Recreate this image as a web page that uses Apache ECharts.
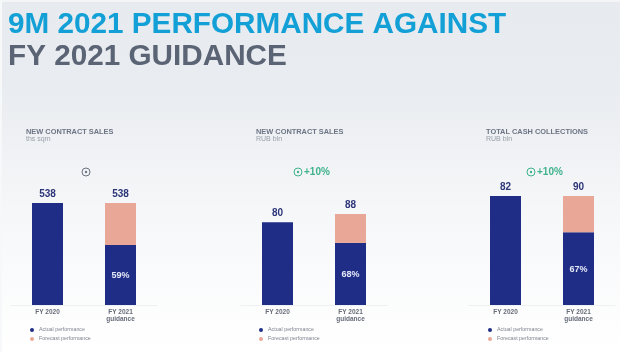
<!DOCTYPE html>
<html>
<head>
<meta charset="utf-8">
<style>
  html, body { margin: 0; padding: 0; background: #fff; }
  #chart { width: 620px; height: 352px; }
</style>
<script src="https://cdn.jsdelivr.net/npm/echarts@6/dist/echarts.min.js"></script>
</head>
<body>
<div id="chart"></div>
<script>
var categories = ['FY 2020', 'FY 2021\nguidance']
var actualName = 'Actual performance'
var forecastName = 'Forecast performance'

// bar heights
var sqmActual = [538, 317]
var sqmForecast = [0, 221]
var sqmTotals = ['538', '538']
var sqmShare = ['', '59%']

var rubActual = [80, 60]
var rubForecast = [0, 28]
var rubTotals = ['80', '88']
var rubShare = ['', '68%']

// the source draws both bars of this panel at the same height
var cashActual = [90, 60]
var cashForecast = [0, 30]
var cashTotals = ['82', '90']
var cashShare = ['', '67%']

var panels = [
  { title: 'NEW CONTRACT SALES', unit: 'ths sqm', actual: sqmActual, forecast: sqmForecast, totals: sqmTotals, share: sqmShare, growth: '', titleX: 26, left: 11, legendX: 30, max: 538, height: 102, iconX: 86 },
  { title: 'NEW CONTRACT SALES', unit: 'RUB bln', actual: rubActual, forecast: rubForecast, totals: rubTotals, share: rubShare, growth: '+10%', titleX: 256, left: 241, legendX: 259, max: 88, height: 91, iconX: 298 },
  { title: 'TOTAL CASH COLLECTIONS', unit: 'RUB bln', actual: cashActual, forecast: cashForecast, totals: cashTotals, share: cashShare, growth: '+10%', titleX: 486, left: 469, legendX: 488, max: 90, height: 109, iconX: 531 }
]

var font = '"Liberation Sans", Arial, sans-serif'
var narrow = '"Liberation Sans Narrow", "Liberation Sans", Arial, sans-serif'
var grids = []
var xAxes = []
var yAxes = []
var series = []
var legends = []
// pale strips along the top and left edge of the slide
var graphics = [
  { type: 'rect', shape: { x: 0, y: 0, width: 620, height: 2 }, style: { fill: '#f4f5f7' } },
  { type: 'rect', shape: { x: 0, y: 0, width: 2, height: 352 }, style: { fill: '#f7f8fa' } }
]
var titles = [
  { text: '9M 2021 PERFORMANCE AGAINST', left: 8, top: 10, padding: 0, textStyle: { fontFamily: narrow, fontSize: 29.7, fontWeight: 'bold', color: '#12a0d6' } },
  { text: 'FY 2021 GUIDANCE', left: 8, top: 42, padding: 0, textStyle: { fontFamily: narrow, fontSize: 29.7, fontWeight: 'bold', color: '#5a6474' } }
]

panels.forEach(function (p, i) {
  titles.push({
    text: p.title,
    subtext: p.unit,
    left: p.titleX,
    top: 128,
    padding: 0,
    itemGap: 1,
    textStyle: { fontFamily: font, fontSize: 7.4, fontWeight: 'bold', color: '#6d7484' },
    subtextStyle: { fontFamily: font, fontSize: 7, color: '#9aa0aa' }
  })
  grids.push({ left: p.left, width: 146, top: 305 - p.height, height: p.height })
  xAxes.push({
    type: 'category',
    gridIndex: i,
    data: categories,
    axisTick: { show: false },
    axisLine: { lineStyle: { color: '#eef0f3' } },
    axisLabel: { fontFamily: font, fontSize: 6.5, fontWeight: 'bold', color: '#666c78', margin: 4, lineHeight: 7 }
  })
  yAxes.push({ type: 'value', gridIndex: i, min: 0, max: p.max, show: false, splitLine: { show: false } })
  series.push({
    name: actualName,
    type: 'bar',
    stack: 'p' + i,
    xAxisIndex: i,
    yAxisIndex: i,
    barWidth: 31,
    data: p.actual,
    itemStyle: { color: '#1f2d86' },
    label: {
      show: true,
      position: 'inside',
      offset: [0, 1],
      fontFamily: font,
      fontSize: 9,
      fontWeight: 'bold',
      color: '#e6e9f8',
      formatter: function (d) { return p.share[d.dataIndex] }
    }
  })
  series.push({
    name: forecastName,
    type: 'bar',
    stack: 'p' + i,
    xAxisIndex: i,
    yAxisIndex: i,
    barWidth: 31,
    data: p.forecast,
    itemStyle: { color: '#e9a897' },
    label: {
      show: true,
      position: 'top',
      distance: 4,
      fontFamily: font,
      fontSize: 10,
      fontWeight: 'bold',
      color: '#2c3578',
      formatter: function (d) { return p.totals[d.dataIndex] }
    }
  })
  legends.push({
    data: [actualName, forecastName],
    orient: 'vertical',
    left: p.legendX,
    top: 327.5,
    padding: 0,
    icon: 'circle',
    itemWidth: 4,
    itemHeight: 4,
    itemGap: 4,
    selectedMode: false,
    textStyle: { fontFamily: font, fontSize: 5.3, color: '#7d838e', padding: [0, 0, 0, 0] }
  })
  var ringColor = p.growth ? '#3fb28e' : '#6b7280'
  graphics.push({
    type: 'circle',
    shape: { cx: p.iconX, cy: 172, r: 4 },
    style: { fill: 'none', stroke: ringColor, lineWidth: 1 }
  })
  graphics.push({
    type: 'circle',
    shape: { cx: p.iconX, cy: 172, r: 1.2 },
    style: { fill: ringColor }
  })
  if (p.growth) {
    graphics.push({
      type: 'text',
      x: p.iconX + 6,
      y: 167,
      style: { text: p.growth, fontFamily: font, fontSize: 10, fontWeight: 'bold', fill: '#3fb28e' }
    })
  }
})

var chart = echarts.init(document.getElementById('chart'))
chart.setOption({
  animation: false,
  backgroundColor: {
    type: 'linear',
    x: 0,
    y: 0,
    x2: 0,
    y2: 1,
    colorStops: [
      { offset: 0, color: '#e7eaef' },
      { offset: 0.25, color: '#e9ecf0' },
      { offset: 0.6, color: '#f6f7f9' },
      { offset: 1, color: '#ffffff' }
    ]
  },
  title: titles,
  grid: grids,
  xAxis: xAxes,
  yAxis: yAxes,
  legend: legends,
  series: series,
  graphic: graphics
})
</script>
</body>
</html>
